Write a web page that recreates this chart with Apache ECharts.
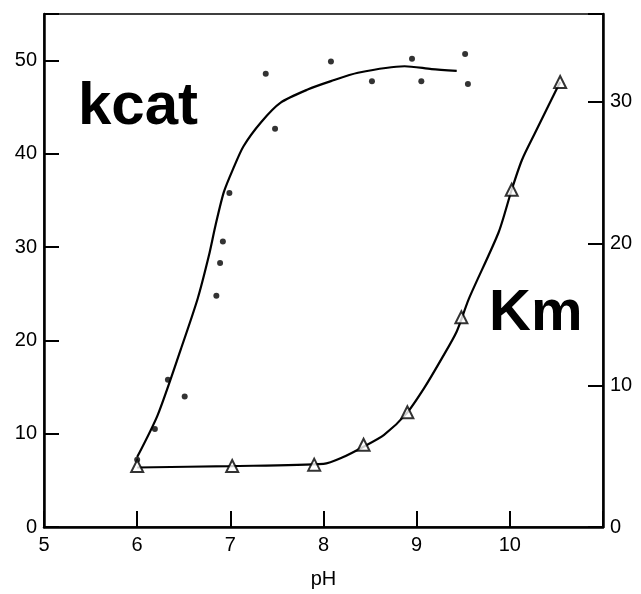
<!DOCTYPE html>
<html>
<head>
<meta charset="utf-8">
<script src="https://cdn.jsdelivr.net/npm/echarts@6/dist/echarts.min.js"></script>
<style>
html,body{margin:0;padding:0;background:#fff;}
#chart{width:641px;height:594px;}
</style>
</head>
<body>
<div id="chart"></div>
<script>
// x-axis ticks (pH)
var xTicks = [5, 6, 7, 8, 9, 10];
var leftTicks = [0, 10, 20, 30, 40, 50];
var rightTicks = [0, 10, 20, 30];

// kcat measured points (pH, kcat)
var kcatPH  = [6.0, 6.19, 6.33, 6.51, 6.85, 6.89, 6.92, 6.99, 7.38, 7.48, 8.08, 8.52, 8.95, 9.05, 9.52, 9.55];
var kcatVal = [7.2, 10.5, 15.8, 14.0, 24.8, 28.3, 30.6, 35.8, 48.6, 42.7, 49.9, 47.8, 50.2, 47.8, 50.7, 47.5];

// kcat fitted curve
var kcatFitPH  = [6.0, 6.22, 6.47, 6.65, 6.77, 6.84, 6.93, 7.03, 7.14, 7.33, 7.54, 7.83, 8.08, 8.37, 8.87, 9.16, 9.43];
var kcatFitVal = [7.5, 12.0, 19.1, 24.5, 29.1, 32.3, 35.9, 38.4, 40.8, 43.4, 45.5, 46.9, 47.8, 48.7, 49.4, 49.1, 48.9];

// Km measured points (pH, Km)
var kmPH  = [6.0, 7.02, 7.9, 8.43, 8.9, 9.48, 10.02, 10.54];
var kmVal = [4.3, 4.3, 4.4, 5.8, 8.1, 14.8, 23.8, 31.4];

// Km fitted curve
var kmFitPH  = [6.0, 7.0, 8.0, 8.2, 8.44, 8.65, 8.89, 9.08, 9.27, 9.43, 9.56, 9.88, 10.02, 10.13, 10.27, 10.54];
var kmFitVal = [4.2, 4.3, 4.45, 4.9, 5.7, 6.5, 8.0, 9.8, 11.9, 13.8, 16.1, 20.8, 23.8, 25.9, 27.8, 31.4];

function zip(a, b) { return a.map(function (v, i) { return [v, b[i]]; }); }

var chart = echarts.init(document.getElementById('chart'));
var labelFont = {fontFamily: 'Liberation Sans, Arial, sans-serif', fontSize: 20, color: '#000'};

chart.setOption({
  animation: false,
  backgroundColor: '#fff',
  grid: {left: 44, right: 38, top: 14, bottom: 65, show: true, borderColor: '#000', borderWidth: 1.5},
  xAxis: {
    type: 'value', min: 5, max: 11, interval: 1,
    name: 'pH', nameLocation: 'middle', nameGap: 42,
    nameTextStyle: labelFont,
    axisLine: {show: true, onZero: false, lineStyle: {color: '#000', width: 2.5}},
    axisTick: {show: true, inside: true, length: 16, lineStyle: {color: '#000', width: 2}},
    axisLabel: Object.assign({margin: 8, formatter: function (v) { return xTicks.indexOf(v) >= 0 ? String(v) : ''; }}, labelFont),
    splitLine: {show: false}
  },
  yAxis: [{
    type: 'value', min: 0, max: 55, interval: 10, position: 'left',
    axisLine: {show: true, onZero: false, lineStyle: {color: '#000', width: 2.5}},
    axisTick: {show: true, inside: true, length: 15, lineStyle: {color: '#000', width: 2}},
    axisLabel: Object.assign({margin: 7, formatter: function (v) { return leftTicks.indexOf(v) >= 0 ? String(v) : ''; }}, labelFont),
    splitLine: {show: false}
  }, {
    type: 'value', min: 0, max: 36.2, interval: 10, position: 'right',
    axisLine: {show: true, onZero: false, lineStyle: {color: '#000', width: 2.5}},
    axisTick: {show: true, inside: true, length: 15, lineStyle: {color: '#000', width: 2}},
    axisLabel: Object.assign({margin: 7, formatter: function (v) { return rightTicks.indexOf(v) >= 0 ? String(v) : ''; }}, labelFont),
    splitLine: {show: false}
  }],
  graphic: [
    {type: 'text', left: 78, top: 77, style: {text: 'kcat', fontFamily: 'Liberation Sans, Arial, sans-serif', fontWeight: 'bold', fontSize: 60, fill: '#000'}},
    {type: 'text', left: 489, top: 285, style: {text: 'Km', fontFamily: 'Liberation Sans, Arial, sans-serif', fontWeight: 'bold', fontSize: 58, fill: '#000'}}
  ],
  series: [
    {type: 'line', yAxisIndex: 0, data: zip(kcatFitPH, kcatFitVal), smooth: 0.25, showSymbol: false,
     lineStyle: {color: '#000', width: 2.2}, silent: true, z: 2},
    {type: 'scatter', yAxisIndex: 0, data: zip(kcatPH, kcatVal), symbol: 'circle', symbolSize: 6,
     itemStyle: {color: '#000'}, z: 3},
    {type: 'line', yAxisIndex: 1, data: zip(kmFitPH, kmFitVal), smooth: 0.25, showSymbol: false,
     lineStyle: {color: '#000', width: 2.2}, silent: true, z: 2},
    {type: 'scatter', yAxisIndex: 1, data: zip(kmPH, kmVal), symbol: 'triangle', symbolSize: 12,
     itemStyle: {color: '#fff', borderColor: '#000', borderWidth: 2}, z: 4}
  ]
});
</script>
</body>
</html>
